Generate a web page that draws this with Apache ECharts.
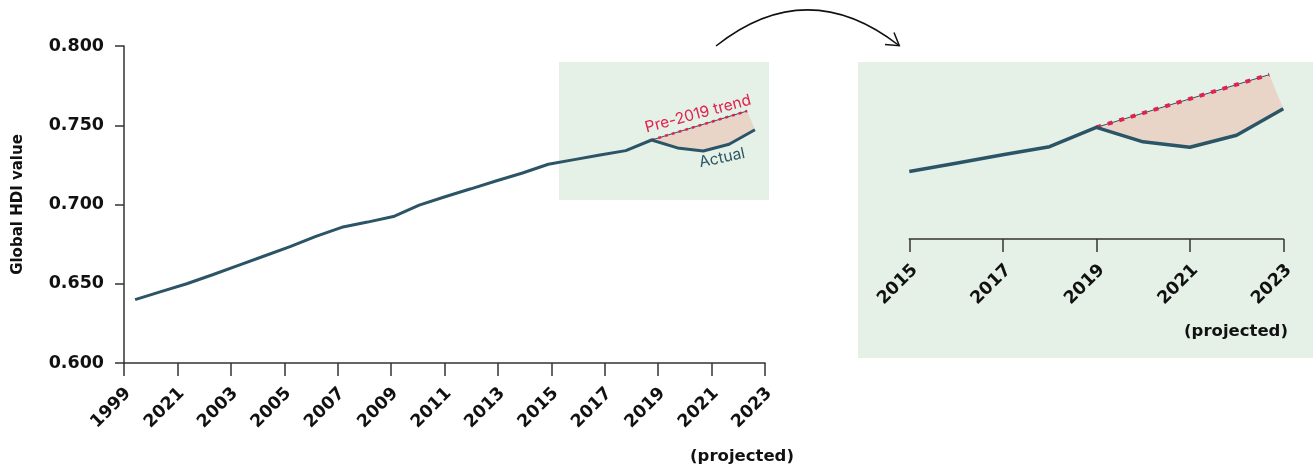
<!DOCTYPE html>
<html>
<head>
<meta charset="utf-8">
<script src="https://cdn.jsdelivr.net/npm/echarts@6/dist/echarts.min.js"></script>
<style>
  html, body { margin: 0; padding: 0; background: #ffffff; }
  #chart { width: 1313px; height: 471px; }
</style>
</head>
<body>
<div id="chart"></div>
<script>
// ---- data ----
const years = [1999, 2000, 2001, 2002, 2003, 2004, 2005, 2006, 2007, 2008, 2009, 2010, 2011,
               2012, 2013, 2014, 2015, 2016, 2017, 2018, 2019, 2020, 2021, 2022, 2023];
const hdiActual = [0.640, 0.645, 0.650, 0.6557, 0.6616, 0.6675, 0.6734, 0.6799, 0.6856, 0.6889,
                   0.6924, 0.6996, 0.7049, 0.7099, 0.7150, 0.7199, 0.7254, 0.7283, 0.7312, 0.7340,
                   0.7407, 0.7357, 0.7338, 0.7380, 0.7472];
const trendYears = [2019, 2022.7];
const trendValues = [0.7407, 0.759];
const mainTickLabels = ['1999', '2021', '2003', '2005', '2007', '2009', '2011', '2013',
                        '2015', '2017', '2019', '2021', '2023'];
const insetTickLabels = ['2015', '2017', '2019', '2021', '2023'];
const yMin = 0.6, yMax = 0.8, yStep = 0.05;
const insetStartYear = 2015;

// ---- derived ----
const actualPairs = years.map((y, i) => [y, hdiActual[i]]);
const insetPairs = actualPairs.filter(p => p[0] >= insetStartYear);
const trendPairs = trendYears.map((y, i) => [y, trendValues[i]]);
const gapPolygon = trendPairs.concat(
  actualPairs.filter(p => p[0] > trendYears[0]).slice().reverse()
);

const BOLD = '"DejaVu Sans", sans-serif';
const FONT = 'Inter, "Noto Sans", sans-serif';
const LINE = '#2b5566';
const RED = '#e0224e';
const GAP = '#e8d5c8';
const GREEN = '#e5f0e6';
const AXIS = '#333333';

const chart = echarts.init(document.getElementById('chart'));

function gapSeries(xi, yi) {
  return {
    type: 'custom',
    xAxisIndex: xi, yAxisIndex: yi,
    data: [trendPairs[0]],
    silent: true,
    z: 1,
    renderItem: function (params, api) {
      return {
        type: 'polygon',
        shape: { points: gapPolygon.map(p => api.coord(p)) },
        style: { fill: GAP }
      };
    }
  };
}

const tickLabelStyle = { color: '#111', fontWeight: 'bold', fontSize: 17.5, fontFamily: BOLD };

const option = {
  animation: false,
  backgroundColor: '#ffffff',
  textStyle: { fontFamily: FONT },
  grid: [
    { left: 124, top: 46, width: 641, height: 317 },
    { left: 909.3, top: 66, width: 374, height: 173 }
  ],
  xAxis: [
    {
      type: 'category', gridIndex: 0, data: mainTickLabels, boundaryGap: false,
      axisLine: { lineStyle: { color: AXIS, width: 1.5 } },
      axisTick: { length: 13, lineStyle: { color: AXIS, width: 1.5 } },
      axisLabel: Object.assign({ rotate: 45, margin: 32, interval: 0, padding: [0, -6, 0, 0] }, tickLabelStyle),
      splitLine: { show: false }
    },
    {
      type: 'value', gridIndex: 0, min: 1998.57, max: 2023.39, show: false
    },
    {
      type: 'value', gridIndex: 1, min: 2015, max: 2023, interval: 2,
      axisLine: { lineStyle: { color: AXIS, width: 1.5 } },
      axisTick: { length: 13, lineStyle: { color: AXIS, width: 1.5 } },
      axisLabel: Object.assign({ rotate: 45, margin: 34, padding: [0, -8, 0, 0],
        formatter: v => insetTickLabels[Math.round((v - 2015) / 2)] || '' }, tickLabelStyle),
      splitLine: { show: false }
    }
  ],
  yAxis: [
    {
      type: 'value', gridIndex: 0, min: yMin, max: yMax, interval: yStep,
      name: 'Global HDI value', nameLocation: 'middle', nameGap: 98,
      nameTextStyle: { fontWeight: 'bold', fontSize: 15, color: '#111', fontFamily: BOLD },
      axisLine: { show: true, lineStyle: { color: AXIS, width: 1.5 } },
      axisTick: { show: true, length: 9, lineStyle: { color: AXIS, width: 1.5 } },
      axisLabel: Object.assign({ margin: 20, formatter: v => v.toFixed(3) }, tickLabelStyle),
      splitLine: { show: false }
    },
    {
      type: 'value', gridIndex: 1, min: 0.702, max: 0.762, show: false
    }
  ],
  graphic: [
    { type: 'rect', z: -10, shape: { x: 559, y: 62, width: 210, height: 138 }, style: { fill: GREEN } },
    { type: 'rect', z: -10, shape: { x: 858, y: 62, width: 455, height: 296 }, style: { fill: GREEN } },
    { type: 'bezierCurve', z: 10,
      shape: { x1: 716, y1: 46, x2: 899, y2: 45.5, cpx1: 807, cpy1: -26 },
      style: { stroke: '#111', lineWidth: 1.5, fill: null } },
    { type: 'polyline', z: 10,
      shape: { points: [[894, 32.5], [899.3, 45.7], [885, 44.5]] },
      style: { stroke: '#111', lineWidth: 1.5, fill: null } },
    { type: 'text', z: 10, x: 698, y: 114, rotation: 15 * Math.PI / 180,
      style: { text: 'Pre-2019 trend', fill: RED, font: '15.5px ' + FONT, align: 'center', verticalAlign: 'middle' } },
    { type: 'text', z: 10, x: 722, y: 158, rotation: 12 * Math.PI / 180,
      style: { text: 'Actual', fill: LINE, font: '15.5px ' + FONT, align: 'center', verticalAlign: 'middle' } },
    { type: 'text', z: 10, x: 742, y: 457,
      style: { text: '(projected)', fill: '#111', font: 'bold 16.5px ' + BOLD, align: 'center', verticalAlign: 'middle' } },
    { type: 'text', z: 10, x: 1236, y: 332,
      style: { text: '(projected)', fill: '#111', font: 'bold 16.5px ' + BOLD, align: 'center', verticalAlign: 'middle' } }
  ],
  series: [
    gapSeries(1, 0),
    {
      type: 'line', xAxisIndex: 1, yAxisIndex: 0, data: trendPairs, showSymbol: false, z: 3,
      lineStyle: { color: LINE, width: 1 }, silent: true
    },
    {
      type: 'line', xAxisIndex: 1, yAxisIndex: 0, data: trendPairs, showSymbol: false, z: 4,
      lineStyle: { color: RED, width: 2.5, type: [3, 4] }, silent: true
    },
    {
      type: 'line', xAxisIndex: 1, yAxisIndex: 0, data: actualPairs, showSymbol: false, z: 5,
      lineStyle: { color: LINE, width: 3 }, silent: true
    },
    gapSeries(2, 1),
    {
      type: 'line', xAxisIndex: 2, yAxisIndex: 1, data: trendPairs, showSymbol: false, z: 3,
      lineStyle: { color: LINE, width: 1 }, silent: true
    },
    {
      type: 'line', xAxisIndex: 2, yAxisIndex: 1, data: trendPairs, showSymbol: false, z: 4,
      lineStyle: { color: RED, width: 4, type: [5, 7] }, silent: true
    },
    {
      type: 'line', xAxisIndex: 2, yAxisIndex: 1, data: insetPairs, showSymbol: false, z: 5,
      lineStyle: { color: LINE, width: 3.5 }, silent: true
    }
  ]
};

chart.setOption(option);
</script>
</body>
</html>
